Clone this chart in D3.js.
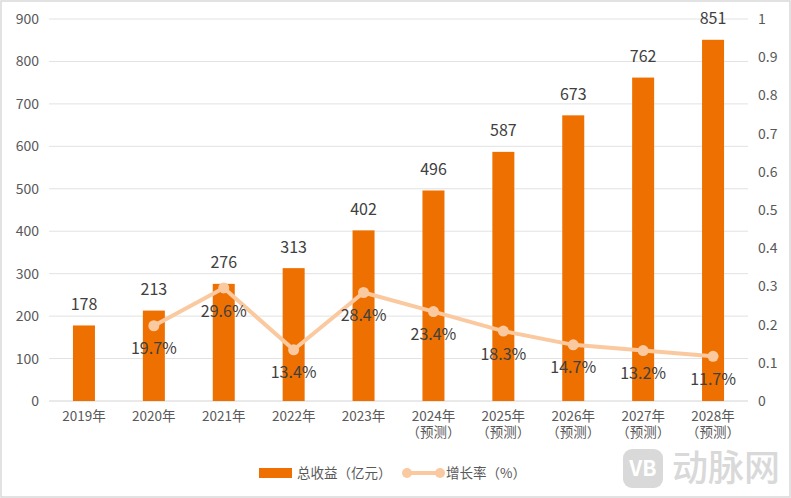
<!DOCTYPE html>
<html>
<head>
<meta charset="utf-8">
<script src="https://cdn.jsdelivr.net/npm/d3@7"></script>
<style>
  html, body { margin: 0; padding: 0; background: #fff; }
  svg { display: block; }
  text { font-family: "Noto Sans CJK SC", "Noto Sans", sans-serif; }
</style>
</head>
<body>
<div id="chart"></div>
<script>
var years = ['2019年', '2020年', '2021年', '2022年', '2023年', '2024年', '2025年', '2026年', '2027年', '2028年'];
var forecastYears = ['2024年', '2025年', '2026年', '2027年', '2028年'];
var revenue = [178, 213, 276, 313, 402, 496, 587, 673, 762, 851];
var growthYears = ['2020年', '2021年', '2022年', '2023年', '2024年', '2025年', '2026年', '2027年', '2028年'];
var growth = [0.197, 0.296, 0.134, 0.284, 0.234, 0.183, 0.147, 0.132, 0.117];
var leftTicks = [0, 100, 200, 300, 400, 500, 600, 700, 800, 900];
var rightTicks = [0, 0.1, 0.2, 0.3, 0.4, 0.5, 0.6, 0.7, 0.8, 0.9, 1];

var W = 791, H = 498;
var textColor = '#595959', labelColor = '#404040', gridColor = '#e2e2e2';
var barColor = '#ee7000', lineColor = '#fac9a0';

var svg = d3.select('#chart').append('svg').attr('width', W).attr('height', H);

// outer frame
svg.append('rect')
  .attr('x', 1).attr('y', 1).attr('width', W - 2).attr('height', H - 2)
  .attr('fill', '#fff').attr('stroke', '#d9d9d9').attr('stroke-width', 1.5);

var x = d3.scaleBand().domain(years).range([49, 748]);
var yLeft = d3.scaleLinear().domain([0, 900]).range([401, 19]);
var yRight = d3.scaleLinear().domain([0, 1]).range([401, 19]);
var cx = function(d) { return x(d) + x.bandwidth() / 2; };

// grid
svg.append('g').selectAll('line').data(leftTicks).enter().append('line')
  .attr('x1', 49).attr('x2', 748)
  .attr('y1', function(d) { return yLeft(d); })
  .attr('y2', function(d) { return yLeft(d); })
  .attr('stroke', function(d) { return d === 0 ? '#d4d4d4' : gridColor; })
  .attr('stroke-width', 1);

// axes
var styleAxis = function(g) {
  g.select('.domain').remove();
  g.selectAll('.tick line').remove();
  g.selectAll('text').attr('fill', textColor).style('font-size', '14px');
};
svg.append('g').attr('transform', 'translate(39,0)')
  .call(d3.axisLeft(yLeft).tickValues(leftTicks).tickSize(0).tickPadding(0))
  .call(styleAxis);
svg.append('g').attr('transform', 'translate(758,0)')
  .call(d3.axisRight(yRight).tickValues(rightTicks).tickFormat(d3.format('~g')).tickSize(0).tickPadding(0))
  .call(styleAxis);

var xAxis = svg.append('g').attr('transform', 'translate(0,401)')
  .call(d3.axisBottom(x).tickSize(0).tickPadding(10))
  .call(styleAxis);
xAxis.selectAll('.tick text').style('font-size', '13.5px');
xAxis.selectAll('.tick').filter(function(d) { return forecastYears.indexOf(d) >= 0; })
  .append('text')
  .attr('y', 35).attr('dy', '0.05em')
  .attr('fill', textColor)
  .attr('text-anchor', 'middle')
  .style('font-size', '13.5px')
  .text('（预测）');

// bars
svg.append('g').selectAll('rect').data(revenue).enter().append('rect')
  .attr('x', function(d, i) { return cx(years[i]) - 11; })
  .attr('width', 22)
  .attr('y', function(d) { return yLeft(d); })
  .attr('height', function(d) { return yLeft(0) - yLeft(d); })
  .attr('fill', barColor);

// growth line
var line = d3.line()
  .x(function(d, i) { return cx(growthYears[i]); })
  .y(function(d) { return yRight(d); });
svg.append('path').datum(growth)
  .attr('d', line)
  .attr('fill', 'none')
  .attr('stroke', lineColor)
  .attr('stroke-width', 4)
  .attr('stroke-linejoin', 'round');
svg.append('g').selectAll('circle').data(growth).enter().append('circle')
  .attr('cx', function(d, i) { return cx(growthYears[i]); })
  .attr('cy', function(d) { return yRight(d); })
  .attr('r', 5.5)
  .attr('fill', lineColor);

// data labels
svg.append('g').selectAll('text').data(revenue).enter().append('text')
  .attr('x', function(d, i) { return cx(years[i]); })
  .attr('y', function(d) { return yLeft(d) - 21; })
  .attr('dy', '0.35em')
  .attr('text-anchor', 'middle')
  .attr('fill', labelColor)
  .style('font-size', '16px')
  .text(function(d) { return d; });
svg.append('g').selectAll('text').data(growth).enter().append('text')
  .attr('x', function(d, i) { return cx(growthYears[i]); })
  .attr('y', function(d) { return yRight(d) + 23; })
  .attr('dy', '0.35em')
  .attr('text-anchor', 'middle')
  .attr('fill', labelColor)
  .style('font-size', '16px')
  .text(function(d) { return (d * 100).toFixed(1) + '%'; });

// legend
var legend = svg.append('g');
legend.append('rect')
  .attr('x', 259).attr('y', 468).attr('width', 33).attr('height', 10)
  .attr('fill', barColor);
legend.append('text')
  .attr('x', 297).attr('y', 473).attr('dy', '0.35em')
  .attr('fill', textColor).style('font-size', '13.5px')
  .text('总收益（亿元）');
legend.append('line')
  .attr('x1', 407).attr('x2', 440).attr('y1', 473).attr('y2', 473)
  .attr('stroke', lineColor).attr('stroke-width', 4);
legend.selectAll('circle').data([407, 440]).enter().append('circle')
  .attr('cx', function(d) { return d; }).attr('cy', 473).attr('r', 5)
  .attr('fill', lineColor);
legend.append('text')
  .attr('x', 446).attr('y', 473).attr('dy', '0.35em')
  .attr('fill', textColor).style('font-size', '13.5px')
  .text('增长率（%）');

// watermark
var mark = svg.append('g').attr('fill', '#d9d9d9');
mark.append('rect')
  .attr('x', 623).attr('y', 449).attr('width', 40).attr('height', 39).attr('rx', 9);
mark.append('text')
  .attr('x', 643).attr('y', 469).attr('dy', '0.35em')
  .attr('text-anchor', 'middle')
  .attr('fill', '#fff')
  .style('font-size', '21px').style('font-weight', 700)
  .text('VB');
mark.append('text')
  .attr('x', 672).attr('y', 468).attr('dy', '0.35em')
  .style('font-size', '36px').style('font-weight', 500)
  .text('动脉网');
</script>
</body>
</html>
